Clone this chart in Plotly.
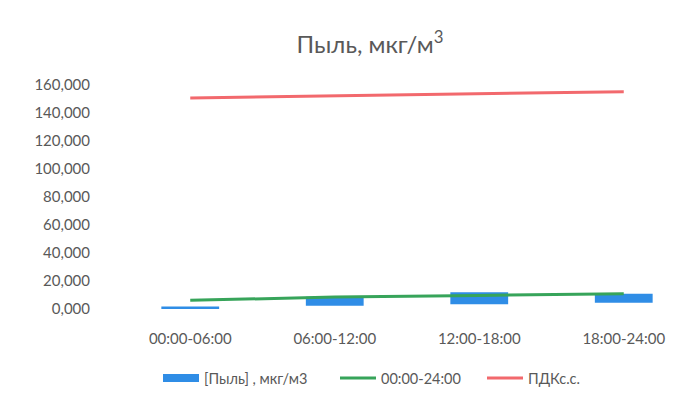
import plotly.graph_objects as go

categories = ["00:00-06:00", "06:00-12:00", "12:00-18:00", "18:00-24:00"]
dust_low = [300, 2400, 3400, 4500]
dust_high = [1700, 8800, 12000, 10900]
daily_avg = [6200, 8500, 9700, 10900]
pdk = [150800, 152300, 153800, 155200]
y_ticks = [0, 20000, 40000, 60000, 80000, 100000, 120000, 140000, 160000]
y_tick_text = ["0,000", "20,000", "40,000", "60,000", "80,000",
               "100,000", "120,000", "140,000", "160,000"]

BLUE = "#2f8de6"
GREEN = "#37a45a"
RED = "#f2696d"
GRAY = "#595959"
FONT = "Lato, Open Sans, sans-serif"

W, H = 688, 397  # page body has an 8px default margin

fig = go.Figure()
fig.add_trace(go.Bar(
    x=categories,
    y=[h - l for h, l in zip(dust_high, dust_low)],
    base=dust_low,
    marker=dict(color=BLUE, line=dict(width=0)),
    width=0.4,
    showlegend=False,
    hoverinfo="skip",
))
fig.add_trace(go.Scatter(
    x=[None], y=[None], mode="lines",
    line=dict(color=BLUE, width=8),
    name="[Пыль] , мкг/м3",
))
fig.add_trace(go.Scatter(
    x=categories, y=daily_avg, mode="lines",
    line=dict(color=GREEN, width=3),
    name="00:00-24:00",
))
fig.add_trace(go.Scatter(
    x=categories, y=pdk, mode="lines",
    line=dict(color=RED, width=3),
    name="ПДКс.с.",
    legend="legend2",
))

legend_common = dict(orientation="h", xref="container", yref="container",
                     xanchor="left", y=(H - 370) / H, yanchor="middle",
                     font=dict(size=14.5, color=GRAY), itemwidth=36,
                     traceorder="normal", bgcolor="rgba(0,0,0,0)")

fig.update_layout(
    width=W, height=H,
    paper_bgcolor="white", plot_bgcolor="white",
    margin=dict(l=110, r=0, t=77, b=96),
    font=dict(family=FONT, color=GRAY, size=14),
    title=dict(text="Пыль, мкг/м<sup>3</sup>", x=362 / W, xref="container",
               xanchor="center", y=1 - 37 / H, yref="container", yanchor="middle",
               font=dict(size=24, color=GRAY, family=FONT)),
    showlegend=True,
    legend=dict(**legend_common, x=150 / W, entrywidth=126, entrywidthmode="pixels"),
    legend2=dict(**legend_common, x=474 / W),
    barmode="overlay",
    xaxis=dict(type="category", range=[-0.5, 3.5], showgrid=False, zeroline=False,
               showline=False, ticks="outside", ticklen=16,
               tickcolor="rgba(0,0,0,0)", tickfont=dict(size=15, color=GRAY)),
    yaxis=dict(range=[0, 160000], tickvals=y_ticks, ticktext=y_tick_text,
               showgrid=False, zeroline=False, showline=False,
               ticks="outside", ticklen=24, tickcolor="rgba(0,0,0,0)",
               tickfont=dict(size=15, color=GRAY)),
)

fig.write_html("out.html")
